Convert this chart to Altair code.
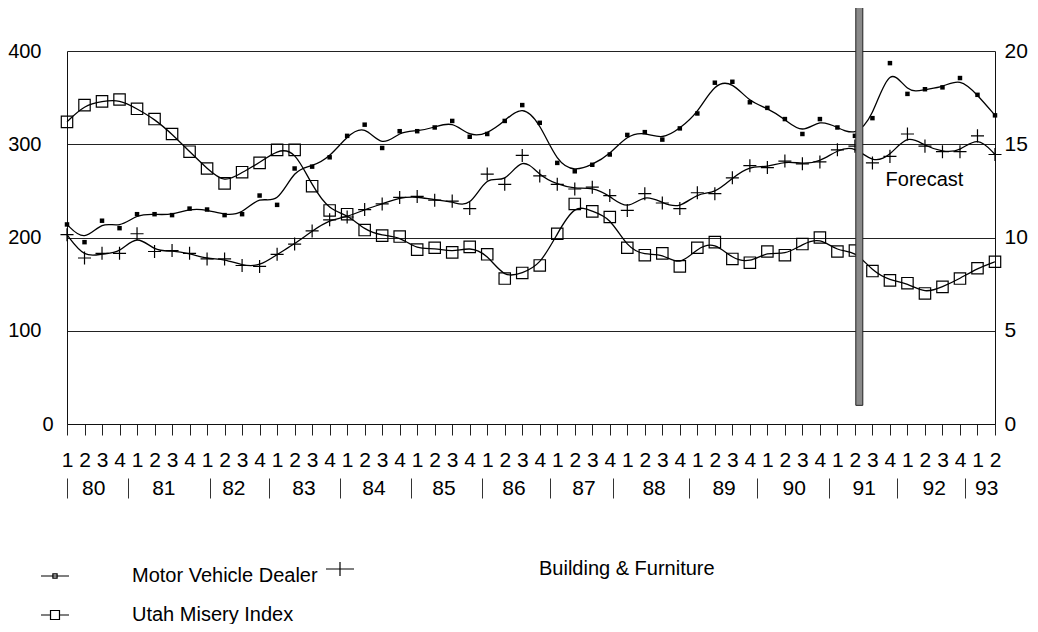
import altair as alt
import pandas as pd

# ---------------- data ----------------
periods = [f"{y}Q{q}" for y in range(1980, 1994) for q in range(1, 5)][:54]

mvd_values = [214, 195, 218, 210, 225, 225, 224, 231, 230, 224,
              225, 245, 235, 274, 276, 286, 309, 321, 296, 314,
              314, 318, 325, 308, 311, 325, 342, 323, 280, 271,
              278, 289, 310, 313, 305, 317, 333, 366, 367, 345,
              339, 327, 311, 327, 318, 309, 328, 387, 354, 359,
              361, 371, 353, 331]

bf_values = [203, 178, 183, 183, 204, 185, 186, 183, 177, 177,
             170, 169, 182, 193, 207, 219, 222, 230, 236, 243,
             244, 240, 239, 231, 268, 257, 288, 266, 257, 252,
             254, 245, 229, 247, 237, 231, 248, 247, 264, 277,
             275, 282, 279, 281, 294, 298, 280, 287, 311, 298,
             292, 292, 309, 289]

misery_values = [16.2, 17.1, 17.3, 17.4, 16.9, 16.35, 15.55, 14.6, 13.7, 12.9,
                 13.5, 14.0, 14.7, 14.7, 12.75, 11.45, 11.25, 10.4, 10.1, 10.05,
                 9.35, 9.45, 9.2, 9.5, 9.1, 7.8, 8.1, 8.5, 10.2, 11.8,
                 11.4, 11.1, 9.45, 9.05, 9.15, 8.45, 9.45, 9.75, 8.85, 8.65,
                 9.25, 9.05, 9.65, 10.0, 9.25, 9.3, 8.2, 7.7, 7.55, 7.0,
                 7.35, 7.8, 8.35, 8.7]

series_names = ["Motor Vehicle Dealer", "Building & Furniture", "Utah Misery Index"]
quarter_labels = ["1", "2", "3", "4"]
year_labels = ["80", "81", "82", "83", "84", "85", "86", "87", "88", "89",
               "90", "91", "92", "93"]
year_label_pos = [1.5, 5.5, 9.5, 13.5, 17.5, 21.5, 25.5, 29.5, 33.5, 37.5,
                  41.5, 45.5, 49.5, 52.5]
year_separator_pos = [0, 3.5, 8.15, 11.55, 15.6, 19.65, 23.7, 27.6, 31.2,
                      35.5, 39.4, 43.5, 47.4, 51.3]
left_ticks = [0, 100, 200, 300, 400]
right_ticks = [0, 5, 10, 15, 20]
forecast_label = ["Forecast"]
forecast_label_x = [46.75]
forecast_label_y = [262]
forecast_bar_x = [45.05]
forecast_bar_x2 = [45.45]
forecast_bar_y = [20]
forecast_bar_y2 = [450]

FONT = "Liberation Sans"
PLUS = "M-1,0H1M0,-1V1"
SYM_MVD = "M-1,0H1M-0.15,-0.15H0.15V0.15H-0.15Z"
SYM_BF = "M-1,0H1M0,-0.5V0.5"
SYM_UT = "M-1,0H-0.32M0.32,0H1M-0.32,-0.32H0.32V0.32H-0.32Z"

df = pd.DataFrame({
    "i": list(range(len(periods))),
    "period": periods,
    "mvd": mvd_values,
    "bf": bf_values,
    "ut": misery_values,
})
bar_df = pd.DataFrame({"x0": forecast_bar_x, "x1": forecast_bar_x2,
                       "y0": forecast_bar_y, "y1": forecast_bar_y2})
txt_df = pd.DataFrame({"x": forecast_label_x, "y": forecast_label_y,
                       "label": forecast_label})
leg1_names = [series_names[0], series_names[2]]
leg2_names = [series_names[1]]
leg1_df = pd.DataFrame({"series": leg1_names})
leg2_df = pd.DataFrame({"series2": leg2_names})

# ---------------- scales / axes ----------------
xs = alt.Scale(domain=[0, len(periods) - 1], nice=False, zero=False)
yl = alt.Scale(domain=[0, 400], nice=False, zero=False)
yr = alt.Scale(domain=[0, 20], nice=False, zero=False)

q_expr = "[" + ",".join(f"'{q}'" for q in quarter_labels) + "][datum.value % 4]"
y_expr = "[" + ",".join(f"'{y}'" for y in year_labels) + "][floor(datum.value / 4)]"

quarter_axis = alt.Axis(orient="bottom", values=list(range(len(periods))),
                        labelExpr=q_expr, labelOverlap=False, labelFlush=False,
                        labelBound=False, tickSize=11, tickColor="#222",
                        domainColor="#111", labelFontSize=21, labelFont=FONT,
                        labelColor="black", labelPadding=14, grid=False, title=None)
year_axis = alt.Axis(orient="bottom", values=year_label_pos, labelExpr=y_expr,
                     labelOverlap=False, labelFlush=False, labelBound=False,
                     ticks=False, domain=False, offset=53, labelPadding=0,
                     labelFontSize=21, labelFont=FONT, labelColor="black",
                     grid=False, title=None)
sep_axis = alt.Axis(orient="bottom", values=year_separator_pos, labels=False,
                    domain=False, ticks=True, tickSize=20, tickColor="#333",
                    tickWidth=1, offset=54, grid=False, title=None)

left_axis = alt.Axis(orient="left", values=left_ticks, grid=True, gridColor="#222",
                     gridWidth=1, ticks=False, domainColor="#111",
                     labelFontSize=20, labelFont=FONT, labelColor="black",
                     labelPadding={"condition": {"test": "datum.value == 0", "value": 14},
                                   "value": 26},
                     title=None)
right_axis = alt.Axis(orient="right", values=right_ticks, grid=False, ticks=False,
                      domainColor="#111", labelFontSize=21, labelFont=FONT,
                      labelColor="black", labelPadding=9, title=None)

base = alt.Chart(df)
line_kw = dict(interpolate="basis", color="black", strokeWidth=1.3)

mvd_line = base.mark_line(**line_kw).encode(
    x=alt.X("i:Q", scale=xs, axis=quarter_axis),
    y=alt.Y("mvd:Q", scale=yl, axis=left_axis))
mvd_pts = base.mark_square(size=20, color="black", opacity=1).encode(
    x=alt.X("i:Q", scale=xs, axis=None),
    y=alt.Y("mvd:Q", scale=yl, axis=None))
bf_line = base.mark_line(**line_kw).encode(
    x=alt.X("i:Q", scale=xs, axis=year_axis),
    y=alt.Y("bf:Q", scale=yl, axis=None))
bf_pts = base.mark_point(shape=PLUS, size=170, filled=False, color="black",
                         strokeWidth=1.2, opacity=1).encode(
    x=alt.X("i:Q", scale=xs, axis=sep_axis),
    y=alt.Y("bf:Q", scale=yl, axis=None))
ut_line = base.mark_line(**line_kw).encode(
    x=alt.X("i:Q", scale=xs, axis=None),
    y=alt.Y("ut:Q", scale=yr, axis=right_axis))
ut_pts = base.mark_point(shape="square", size=130, filled=False, color="black",
                         strokeWidth=1.2, opacity=1).encode(
    x=alt.X("i:Q", scale=xs, axis=None),
    y=alt.Y("ut:Q", scale=yr, axis=None))

bar = alt.Chart(bar_df).mark_rect(fill="#8a8a8a", stroke="#222", strokeWidth=1).encode(
    x=alt.X("x0:Q", scale=xs, axis=None), x2="x1:Q",
    y=alt.Y("y0:Q", scale=yl, axis=None), y2="y1:Q")

txt = alt.Chart(txt_df).mark_text(align="left", baseline="middle", fontSize=20,
                                  font=FONT, color="black").encode(
    x=alt.X("x:Q", scale=xs, axis=None),
    y=alt.Y("y:Q", scale=yl, axis=None),
    text="label:N")

leg_common = dict(orient="none", title=None, symbolSize=784, symbolOpacity=1,
                  symbolStrokeColor="black", symbolStrokeWidth=1.2,
                  symbolFillColor="transparent", labelFont=FONT, labelFontSize=20,
                  labelColor="black", labelLimit=400)
leg1 = alt.Legend(legendX=-27, legendY=510, direction="vertical", rowPadding=14,
                  labelOffset=62, **leg_common)
leg2 = alt.Legend(legendX=258, legendY=503, direction="vertical",
                  symbolType=SYM_BF, labelOffset=184, **leg_common)

legend_layer1 = alt.Chart(leg1_df).mark_point(filled=False, opacity=0, color="black").encode(
    shape=alt.Shape("series:N", sort=leg1_names,
                    scale=alt.Scale(domain=leg1_names, range=[SYM_MVD, SYM_UT]),
                    legend=leg1))
legend_layer2 = alt.Chart(leg2_df).mark_point(filled=False, opacity=0).encode(
    color=alt.Color("series2:N",
                    scale=alt.Scale(domain=leg2_names, range=["black"]),
                    legend=leg2))

chart = alt.layer(
    mvd_line, bf_line, ut_line, mvd_pts, bf_pts, ut_pts, bar, txt,
    legend_layer1, legend_layer2
).resolve_scale(y="independent").resolve_axis(x="independent", y="independent").properties(
    width=928, height=373,
    padding={"left": 59, "top": 43, "right": 35, "bottom": 200},
    autosize=alt.AutoSizeParams(type="none"),
    background="white",
).configure_view(stroke=None)

chart.save("out.html", embed_options={"renderer": "svg", "actions": False})
